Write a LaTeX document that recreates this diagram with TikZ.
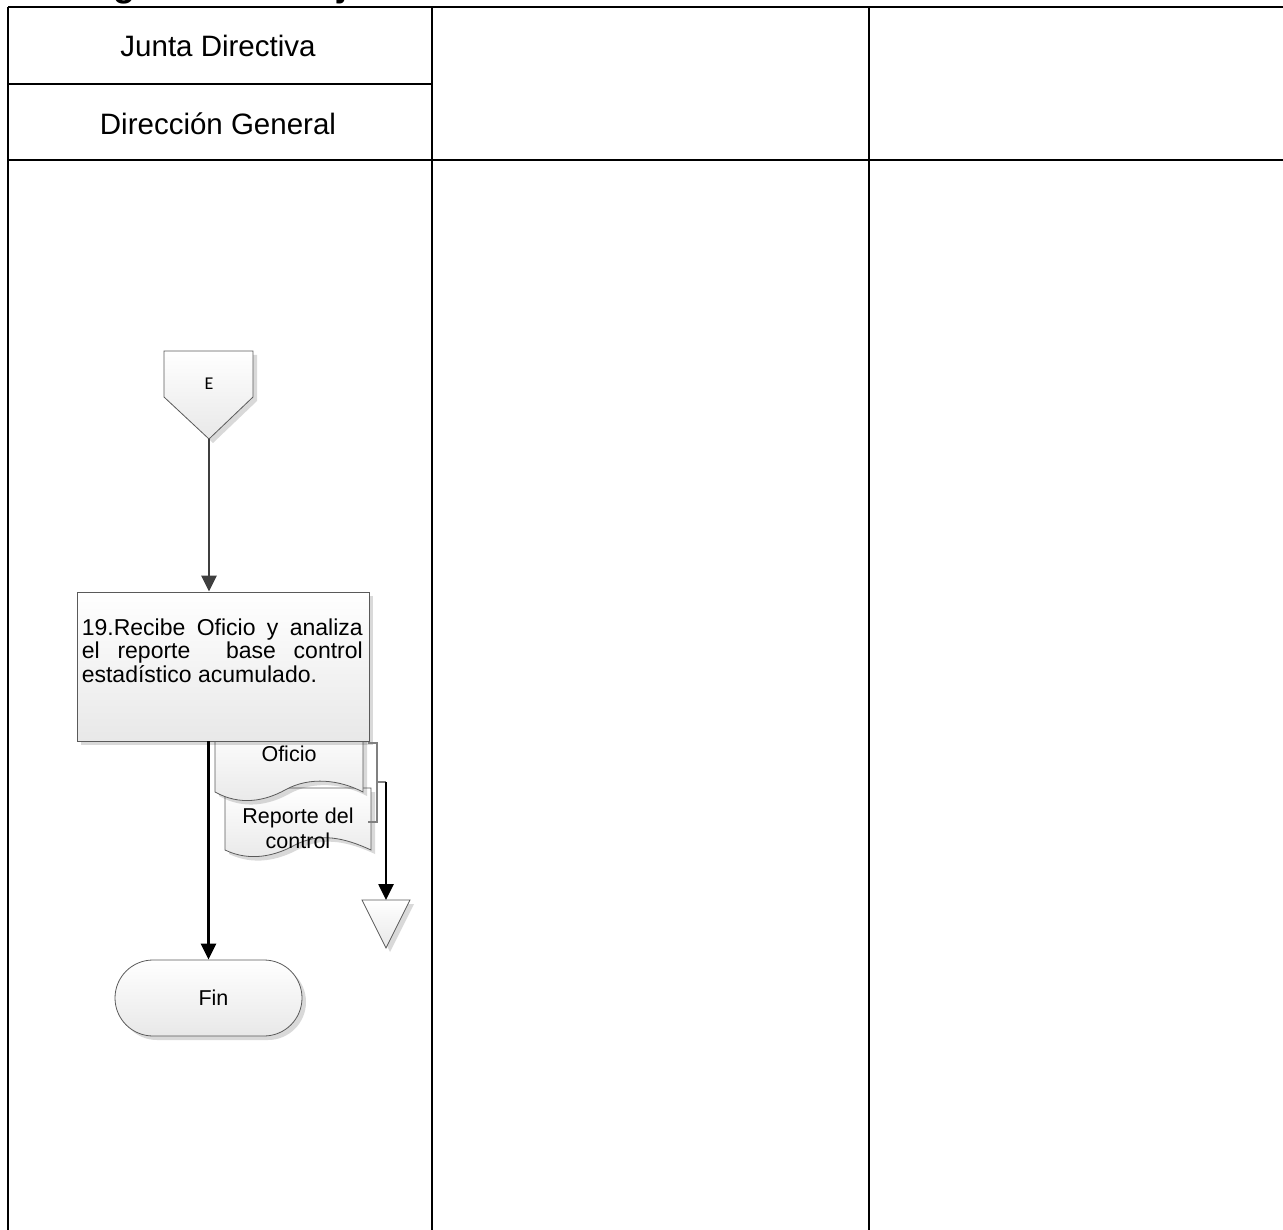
\documentclass[tikz,border=0pt]{standalone}
\usepackage{fontspec}
\setmainfont{Liberation Sans}
\newfontfamily\calibri{Carlito}
\usetikzlibrary{arrows.meta,shadows,positioning}
\definecolor{borde}{HTML}{5A5A5A}
\definecolor{flecha}{HTML}{3F3F3F}

\begin{document}
\begin{tikzpicture}[x=1pt,y=-1pt]
    \tikzstyle{lane}=[line width=2.6pt]
    \tikzstyle{lanethin}=[line width=1.9pt]
    \tikzstyle{fig}=[draw=borde,line width=0.8pt,top color=white,bottom color=black!9,
        drop shadow={shadow xshift=4pt,shadow yshift=-4pt,opacity=0.15,fill=black}]
    \tikzstyle{flow}=[line width=2.6pt,-{Triangle[length=16pt,width=15pt]}]
    \tikzstyle{txt}=[font=\fontsize{21.5}{25}\selectfont]

    \clip (0,0) rectangle (1283,1230);

    % title, cut by the page
    \node[anchor=base west,font=\bfseries\fontsize{36}{40}\selectfont] (titulo) at (54,-3) {Diagrama de Flujo};

    % lanes
    \draw[lane] (8,7) -- (1283,7);
    \draw[lane] (8,160) -- (1283,160);
    \draw[lane] (8,84) -- (432,84);
    \draw[lanethin] (8,7) -- (8,1230);
    \draw[lanethin] (432,7) -- (432,1230);
    \draw[lanethin] (869,7) -- (869,1230);
    \node[font=\fontsize{29.5}{34}\selectfont] (junta) at (218,46) {Junta Directiva};
    \node[font=\fontsize{29.5}{34}\selectfont] (direccion) at (218,124) {Dirección General};

    % connector E
    \draw[fig] (164,351) -- (253,351) -- (253,397) -- (209,439) -- (164,397) -- cycle;
    \coordinate (ecn) at (209,439);
    \node[font=\calibri\fontsize{18}{20}\selectfont] (e) at (209,384) {E};

    % documents
    \draw[fig] (225,788) -- (371,788) -- (371,850) .. controls (345,838) and (320,832) .. (295,845)
        .. controls (275,856) and (250,862) .. (225,850) -- cycle;
    \node[txt,align=center] (reporte) at (298,828) {Reporte del\\control};
    \draw[fig] (215,727) -- (363,727) -- (363,792) .. controls (340,780) and (310,776) .. (285,790)
        .. controls (265,801) and (240,806) .. (215,792) -- cycle;
    \node[txt] (oficio) at (289,754) {Oficio};

    % process 19
    \node[fig,minimum width=292pt,minimum height=149pt] (proc) at (223,666.5) {};
    \node[anchor=north west,text width=281pt,align=justify,inner sep=0pt,
        font=\fontsize{23}{23.5}\selectfont] (proctxt) at ([xshift=5pt,yshift=-27pt]proc.north west)
        {\hyphenpenalty=10000 19.Recibe Oficio y analiza\linebreak el reporte\ \ base control\linebreak estadístico acumulado.};

    % merge
    \draw[fig] (362,900) -- (410,900) -- (386,948) -- cycle;
    \coordinate (mrg) at (386,900);

    % end
    \node[fig,txt,rounded corners=38pt,minimum width=187pt,minimum height=76pt] (fin) at (208.5,998) {\hspace*{10pt}Fin};

    % connectors
    \draw[flow,draw=flecha,fill=flecha] (ecn) -- (ecn |- proc.north);
    \draw[flow] (fin.north |- proc.south) -- (fin.north);
    \draw[line width=1.4pt,draw=gray] (368,743) -- (377,743) -- (377,822) -- (368,822);
    \coordinate (brk) at (386,782);
    \draw[line width=1.4pt,draw=gray] (377,782) -- (brk);
    \draw[flow] (brk) -- (mrg);
\end{tikzpicture}
\end{document}
